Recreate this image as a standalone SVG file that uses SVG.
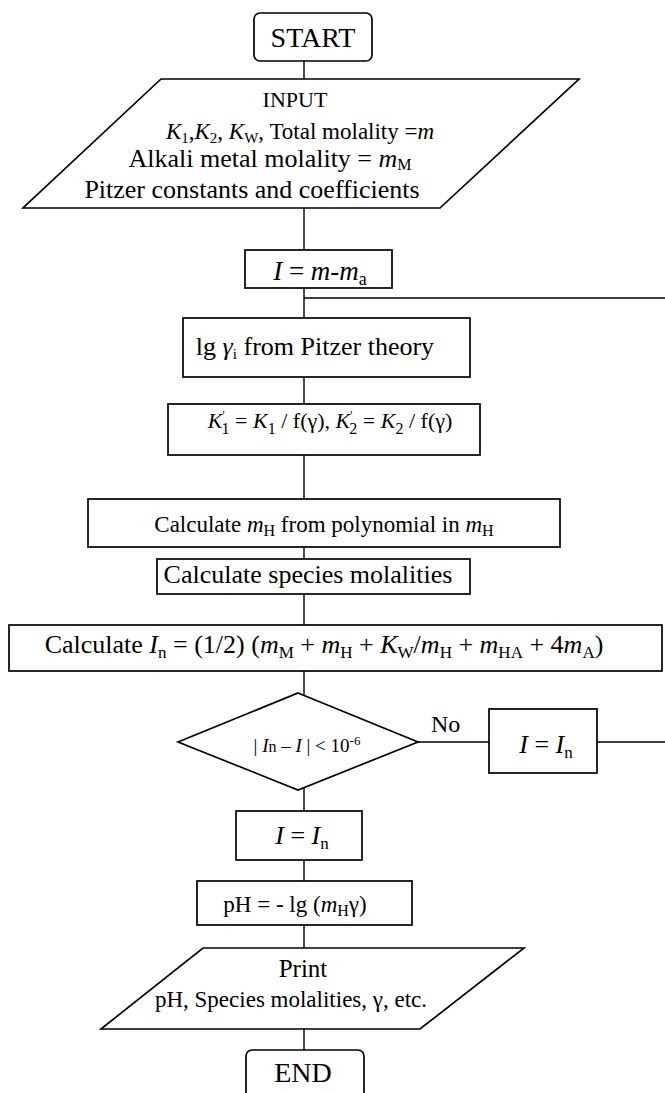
<svg xmlns="http://www.w3.org/2000/svg" width="665" height="1093" viewBox="0 0 665 1093">
<style>
.s{fill:#fff;stroke:#000;stroke-width:1.7}
.c{fill:none;stroke:#000;stroke-width:1.4}
text{font-family:"Liberation Serif","Times New Roman",serif;fill:#000}
.i{font-style:italic}
</style>
<rect x="0" y="0" width="665" height="1093" fill="#fff"/>
<g id="connectors">
<line class="c" x1="304" y1="61" x2="304" y2="79"/>
<line class="c" x1="304" y1="208" x2="304" y2="250"/>
<line class="c" x1="304" y1="288" x2="304" y2="318"/>
<line class="c" x1="304" y1="298" x2="665" y2="298"/>
<line class="c" x1="304" y1="377" x2="304" y2="404"/>
<line class="c" x1="304" y1="455" x2="304" y2="499"/>
<line class="c" x1="304" y1="547" x2="304" y2="559"/>
<line class="c" x1="304" y1="594" x2="304" y2="625"/>
<line class="c" x1="304" y1="671" x2="304" y2="696"/>
<line class="c" x1="418" y1="742" x2="489" y2="742"/>
<line class="c" x1="597" y1="742" x2="665" y2="742"/>
<line class="c" x1="304" y1="787" x2="304" y2="811"/>
<line class="c" x1="304" y1="860" x2="304" y2="881"/>
<line class="c" x1="304" y1="925" x2="304" y2="948"/>
<line class="c" x1="304" y1="1029" x2="304" y2="1050"/>
<text x="431" y="732" font-size="24">No</text>
</g>
<g id="start">
<rect class="s" x="254" y="13" width="118" height="48" rx="6"/>
<text x="313" y="47" font-size="28" text-anchor="middle">START</text>
</g>
<g id="input">
<polygon class="s" points="161,79 579,79 440,208 23,208"/>
<text x="295" y="107" font-size="22" text-anchor="middle">INPUT</text>
<text x="300" y="139" font-size="23" text-anchor="middle"><tspan class="i">K</tspan><tspan font-size="15" dy="4">1</tspan><tspan dy="-4">,</tspan><tspan class="i">K</tspan><tspan font-size="15" dy="4">2</tspan><tspan dy="-4">, </tspan><tspan class="i">K</tspan><tspan font-size="15" dy="4">W</tspan><tspan dy="-4">, Total molality =</tspan><tspan class="i">m</tspan></text>
<text x="270" y="167" font-size="26" text-anchor="middle">Alkali metal molality = <tspan class="i">m</tspan><tspan font-size="16" dy="3">M</tspan></text>
<text x="252" y="198" font-size="26" text-anchor="middle">Pitzer constants and coefficients</text>
</g>
<g id="init-I">
<rect class="s" x="245" y="250" width="147" height="38"/>
<text x="320" y="280" font-size="27" text-anchor="middle"><tspan class="i">I</tspan> = <tspan class="i">m</tspan>-<tspan class="i">m</tspan><tspan font-size="18" dy="5">a</tspan></text>
</g>
<g id="lg-gamma">
<rect class="s" x="183" y="318" width="287" height="59"/>
<text x="315" y="355" font-size="26" text-anchor="middle">lg <tspan class="i">γ</tspan><tspan font-size="15" dy="4">i</tspan><tspan dy="-4"> from Pitzer theory</tspan></text>
</g>
<g id="k-prime">
<rect class="s" x="168" y="404" width="312" height="51"/>
<text x="330" y="428" font-size="22" text-anchor="middle"><tspan class="i">K</tspan><tspan font-size="12" dy="-9">'</tspan><tspan font-size="16" dx="-3" dy="15">1</tspan><tspan dy="-6"> = </tspan><tspan class="i">K</tspan><tspan font-size="16" dy="6">1</tspan><tspan dy="-6"> / f(γ),  </tspan><tspan class="i">K</tspan><tspan font-size="12" dy="-9">'</tspan><tspan font-size="16" dx="-3" dy="15">2</tspan><tspan dy="-6"> =  </tspan><tspan class="i">K</tspan><tspan font-size="16" dy="6">2</tspan><tspan dy="-6"> / f(γ)</tspan></text>
</g>
<g id="calc-mh">
<rect class="s" x="88" y="499" width="472" height="48"/>
<text x="324" y="532" font-size="23" text-anchor="middle">Calculate <tspan class="i">m</tspan><tspan font-size="16" dy="4">H</tspan><tspan dy="-4"> from polynomial in </tspan><tspan class="i">m</tspan><tspan font-size="16" dy="4">H</tspan></text>
</g>
<g id="calc-species">
<rect class="s" x="157" y="559" width="313" height="35"/>
<text x="308" y="583" font-size="26" text-anchor="middle">Calculate species molalities</text>
</g>
<g id="calc-In">
<rect class="s" x="9" y="625" width="653" height="46"/>
<text x="324" y="653" font-size="26" text-anchor="middle">Calculate <tspan class="i">I</tspan><tspan font-size="17" dy="5">n</tspan><tspan dy="-5"> = (1/2) (</tspan><tspan class="i">m</tspan><tspan font-size="17" dy="5">M</tspan><tspan dy="-5"> + </tspan><tspan class="i">m</tspan><tspan font-size="17" dy="5">H</tspan><tspan dy="-5"> + </tspan><tspan class="i">K</tspan><tspan font-size="17" dy="5">W</tspan><tspan dy="-5">/</tspan><tspan class="i">m</tspan><tspan font-size="17" dy="5">H</tspan><tspan dy="-5"> + </tspan><tspan class="i">m</tspan><tspan font-size="17" dy="5">HA</tspan><tspan dy="-5"> + 4</tspan><tspan class="i">m</tspan><tspan font-size="17" dy="5">A</tspan><tspan dy="-5">)</tspan></text>
</g>
<g id="decision">
<polygon class="s" points="298,693 418,742 298,790 178,742"/>
<text x="307" y="752" font-size="19" text-anchor="middle">| <tspan class="i">I</tspan><tspan font-size="16">n</tspan> – <tspan class="i">I</tspan> |  &lt;  10<tspan font-size="13" dy="-7">-6</tspan></text>
</g>
<g id="update-I">
<rect class="s" x="489" y="709" width="108" height="64"/>
<text x="546" y="753" font-size="26" text-anchor="middle"><tspan class="i">I</tspan> = <tspan class="i">I</tspan><tspan font-size="17" dy="5">n</tspan></text>
</g>
<g id="final-I">
<rect class="s" x="236" y="811" width="126" height="49"/>
<text x="302" y="844" font-size="26" text-anchor="middle"><tspan class="i">I</tspan> = <tspan class="i">I</tspan><tspan font-size="17" dy="5">n</tspan></text>
</g>
<g id="ph">
<rect class="s" x="197" y="881" width="215" height="44"/>
<text x="295" y="912" font-size="23" text-anchor="middle">pH = - lg (<tspan class="i">m</tspan><tspan font-size="16" dy="4">H</tspan><tspan dy="-4">γ)</tspan></text>
</g>
<g id="print">
<polygon class="s" points="203,948 524,948 420,1029 101,1029"/>
<text x="303" y="977" font-size="25" text-anchor="middle">Print</text>
<text x="291" y="1007" font-size="23" text-anchor="middle">pH, Species molalities, γ, etc.</text>
</g>
<g id="end">
<rect class="s" x="246" y="1050" width="118" height="52" rx="6"/>
<text x="303" y="1082" font-size="28" text-anchor="middle">END</text>
</g>
</svg>
